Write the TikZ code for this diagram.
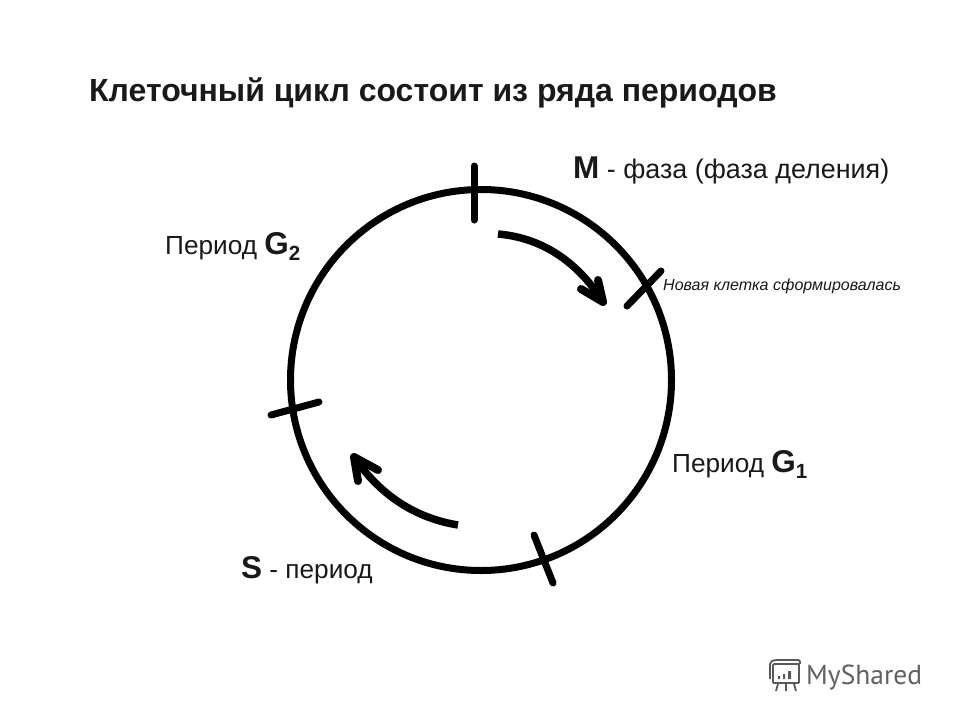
\documentclass[tikz,border=0pt]{standalone}
\usepackage{fontspec}
\setmainfont{Liberation Sans}
\newfontfamily\logofont{PT Sans}
\newcommand{\biglet}[1]{\textbf{\fontsize{31.5}{34}\selectfont #1}}
\newcommand{\lowsub}[1]{\raisebox{-6pt}{\fontsize{20.5}{22}\selectfont #1}}
\begin{document}
\begin{tikzpicture}[x=1pt,y=-1pt,
  ring/.style={draw=black,line width=7pt},
  tick/.style={draw=black,line width=7pt,line cap=round},
  flow/.style={draw=black,line width=7.5pt},
  headline/.style={draw=black,line width=8pt,line cap=round,line join=round},
  lab/.style={inner sep=0pt,anchor=base west,text=black!90},
  logoline/.style={draw=black!65,line width=1.8pt}]
\useasboundingbox (0,0) rectangle (960,720);
\fill[white] (0,0) rectangle (960,720);
\node[lab,font=\bfseries\fontsize{32}{35}\selectfont] (title) at (89,101) {Клеточный цикл состоит из ряда периодов};
\coordinate (c) at (481,380);
\draw[ring] (c) circle[radius=190.5];
% ticks
\coordinate (t1a) at (474,166); \coordinate (t1b) at (474,220);
\coordinate (t2a) at (627,306); \coordinate (t2b) at (661,271);
\coordinate (t3a) at (534,535); \coordinate (t3b) at (553,583);
\coordinate (t4a) at (271,415); \coordinate (t4b) at (319,402);
\draw[tick] (t1a)--(t1b);
\draw[tick] (t2a)--(t2b);
\draw[tick] (t3a)--(t3b);
\draw[tick] (t4a)--(t4b);
% arrows
\coordinate (a1s) at (498,234); \coordinate (a1e) at (603,302);
\draw[flow] (a1s) .. controls (545,238) and (580,265) .. (a1e);
\draw[headline] (581,289)--(603,302)--(598,280);
\coordinate (a2s) at (458,525); \coordinate (a2e) at (354,457);
\draw[flow] (a2s) .. controls (415,518) and (380,495) .. (a2e);
\draw[headline] (358,481)--(354,457)--(378,470);
% labels
\node[lab,font=\fontsize{26.9}{30}\selectfont] (m) at (573,178) {\biglet{M} - фаза (фаза деления)};
\node[lab,font=\fontsize{26.2}{30}\selectfont] (g2) at (165,254) {Период \biglet{G\lowsub{2}}};
\node[lab,font=\itshape\fontsize{16}{18}\selectfont] (nk) at (663,290) {Новая клетка сформировалась};
\node[lab,font=\fontsize{26.2}{30}\selectfont] (g1) at (672,472) {Период \biglet{G\lowsub{1}}};
\node[lab,font=\fontsize{26.2}{30}\selectfont] (s) at (241,578) {\biglet{S} - период};
% logo
\node[inner sep=0pt,anchor=base west,text=black!62,font=\logofont\fontsize{27.5}{30}\selectfont] (logo) at (806,684) {MyShared};
\draw[logoline,rounded corners=1pt] (773,664) rectangle (799,683);
\draw[logoline,rounded corners=2pt] (770,679)--(770,662)--(774,660)--(800,660)--(800,664);
\draw[logoline] (778,684)--(776,691) (786,684)--(786,691) (794,684)--(796,691);
\fill[black!65] (778,676) rectangle (780,679) (783,674) rectangle (785,679) (788,671) rectangle (791,679);
\end{tikzpicture}
\end{document}
